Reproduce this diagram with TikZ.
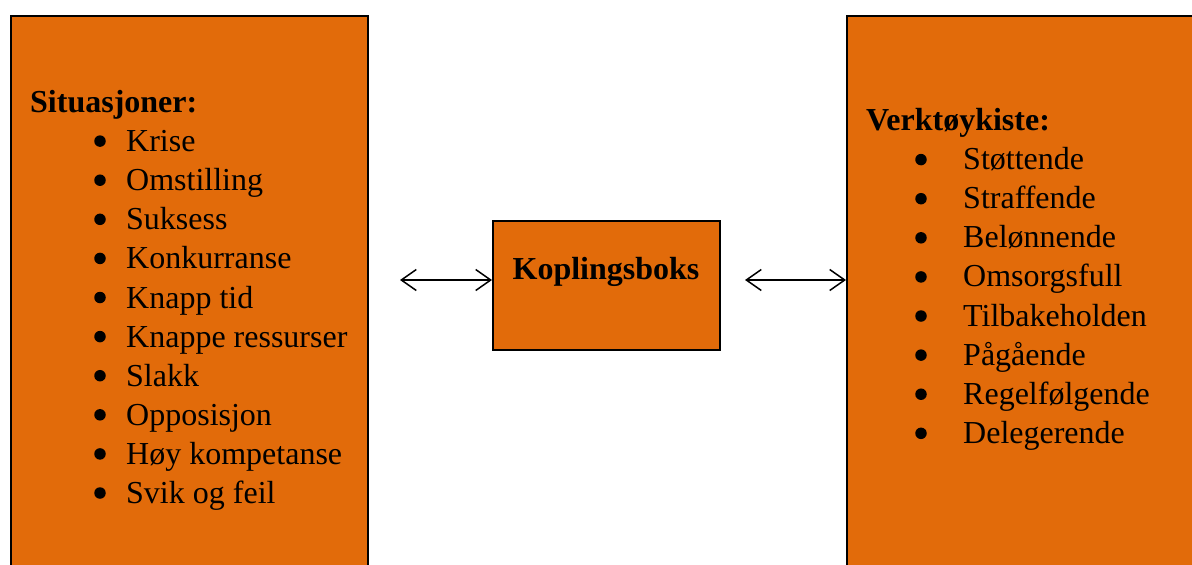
\documentclass[tikz,border=0pt]{standalone}
\usepackage{fontspec}
\setmainfont{Liberation Serif}
\usetikzlibrary{arrows.meta}
\definecolor{boxorange}{RGB}{226,107,10}
\begin{document}
\begin{tikzpicture}[x=1pt,y=-1pt,
  panel/.style={draw=black,line width=1.6pt,fill=boxorange,inner sep=0pt,anchor=north west},
  txt/.style={anchor=base west,inner sep=0pt,font=\fontsize{32}{39}\selectfont},
  hdr/.style={anchor=base west,inner sep=0pt,font=\fontsize{32}{39}\selectfont\bfseries},
  bul/.style={circle,fill=black,inner sep=0pt,minimum size=11.5pt},
  barb/.tip={Straight Barb[length=15pt,width=21pt,line width=1.5pt]},
  link/.style={line width=1.5pt,barb-barb}]
\useasboundingbox (0,0) rectangle (1192,565);
\clip (0,0) rectangle (1192,565);
% boxes
\node[panel,minimum width=357pt,minimum height=620pt] (left) at (10,15) {};
\node[panel,minimum width=227pt,minimum height=129pt] (mid) at (492,220) {};
\node[panel,minimum width=400pt,minimum height=620pt] (right) at (846,15) {};
% middle label
\node[anchor=base,inner sep=0pt,font=\fontsize{32}{39}\selectfont\bfseries] (midlabel) at (606,279) {Koplingsboks};
% left list
\node[hdr] (lh) at (30,112) {Situasjoner:};
\foreach \t [count=\i] in {Krise,Omstilling,Suksess,Konkurranse,Knapp tid,Knappe ressurser,Slakk,Opposisjon,Høy kompetanse,Svik og feil}{
  \node[bul] (lb\i) at (100,102+39.1*\i) {};
  \node[txt] (lt\i) at (126,112.5+39.1*\i) {\t};
}
% right list
\node[hdr] (rh) at (866,130.5) {Verktøykiste:};
\foreach \t [count=\i] in {Støttende,Straffende,Belønnende,Omsorgsfull,Tilbakeholden,Pågående,Regelfølgende,Delegerende}{
  \node[bul] (rb\i) at (921,120.5+39.1*\i) {};
  \node[txt] (rt\i) at (963,130.5+39.1*\i) {\t};
}
% connectors
\coordinate (la) at (400,280);
\coordinate (ra) at (745,280);
\draw[link] (la) -- (la -| mid.west);
\draw[link] (ra) -- (ra -| right.west);
\end{tikzpicture}
\end{document}
